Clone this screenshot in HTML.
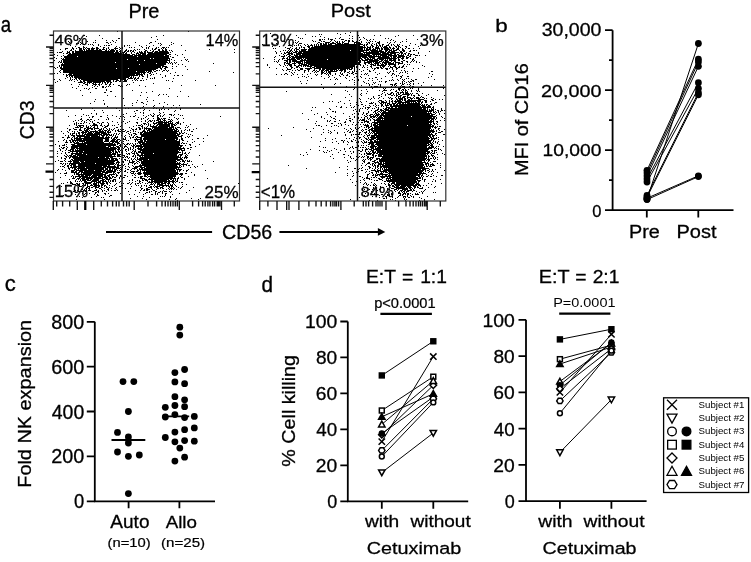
<!DOCTYPE html><html><head><meta charset="utf-8"><style>html,body{margin:0;padding:0;background:#fff;}svg{display:block;will-change:transform}</style></head><body>
<svg width="751" height="562" viewBox="0 0 751 562">
<rect width="751" height="562" fill="#fff"/>
<path transform="translate(0,0.5)" d="M117 31h1M188 31h1M350 32h1M270 33h1M337 33h1M345 33h1M305 34h1M319 34h1M321 34h1M340 34h1M84 35h1M99 35h1M163 35h1M296 35h1M349 35h1M358 35h1M374 35h1M380 35h1M398 35h1M413 35h1M86 36h1M156 36h1M312 36h1M315 36h1M320 36h1M352 36h1M395 36h1M151 37h1M298 37h1M324 37h1M340 37h1M359 37h1M363 37h1M79 38h1M102 38h1M118 38h2M277 38h1M300 38h1M302 38h1M328 38h1M335 38h1M339 38h1M349 38h1M352 38h1M364 38h1M385 38h1M388 38h1M157 39h1M288 39h1M319 39h2M322 39h1M324 39h1M328 39h1M330 39h3M341 39h3M360 39h1M366 39h1M370 39h1M373 39h1M391 39h1M406 39h1M417 39h1M95 40h1M106 40h1M112 40h1M116 40h1M295 40h1M312 40h1M319 40h2M331 40h1M334 40h1M345 40h2M348 40h2M352 40h1M359 40h1M367 40h1M369 40h1M390 40h1M393 40h1M68 41h1M87 41h1M113 41h1M155 41h1M284 41h1M298 41h1M313 41h1M315 41h1M321 41h1M323 41h2M330 41h1M335 41h1M337 41h1M339 41h1M342 41h1M344 41h1M348 41h2M352 41h2M356 41h2M361 41h1M370 41h1M372 41h1M375 41h1M379 41h1M395 41h1M402 41h1M406 41h1M69 42h1M80 42h1M93 42h1M95 42h1M106 42h2M110 42h1M115 42h1M135 42h1M150 42h2M171 42h1M209 42h1M293 42h1M295 42h1M297 42h1M318 42h2M325 42h5M332 42h2M336 42h2M339 42h1M342 42h2M348 42h1M354 42h6M361 42h1M366 42h1M368 42h2M377 42h3M387 42h1M390 42h1M394 42h1M400 42h1M76 43h1M78 43h1M81 43h1M85 43h1M108 43h1M149 43h1M158 43h1M160 43h1M173 43h1M276 43h1M296 43h1M299 43h3M317 43h1M320 43h2M323 43h1M325 43h2M328 43h1M330 43h6M337 43h4M342 43h1M344 43h5M354 43h1M356 43h1M358 43h3M367 43h1M369 43h1M372 43h1M376 43h1M378 43h2M389 43h1M410 43h1M80 44h1M84 44h1M88 44h1M90 44h1M92 44h1M98 44h1M111 44h1M161 44h1M171 44h1M262 44h1M292 44h1M298 44h1M304 44h1M307 44h1M311 44h1M314 44h1M316 44h1M318 44h1M320 44h2M323 44h4M328 44h4M335 44h22M358 44h5M364 44h1M366 44h2M371 44h1M374 44h1M376 44h1M379 44h1M382 44h2M388 44h1M391 44h1M393 44h1M397 44h1M399 44h1M415 44h1M70 45h1M93 45h1M98 45h1M104 45h1M106 45h1M108 45h2M124 45h1M127 45h1M129 45h1M139 45h1M146 45h1M153 45h1M160 45h1M169 45h1M181 45h1M288 45h3M294 45h1M296 45h1M298 45h1M300 45h1M305 45h1M308 45h1M310 45h3M314 45h1M316 45h1M318 45h1M320 45h40M363 45h2M366 45h1M371 45h2M376 45h2M379 45h2M382 45h1M386 45h3M391 45h1M394 45h1M397 45h2M402 45h1M409 45h1M420 45h1M75 46h1M83 46h1M100 46h1M116 46h1M124 46h1M141 46h1M149 46h1M272 46h1M279 46h1M292 46h1M301 46h1M307 46h3M312 46h1M314 46h49M364 46h1M367 46h1M370 46h1M372 46h2M376 46h1M378 46h1M380 46h1M382 46h1M384 46h3M389 46h1M395 46h2M398 46h2M405 46h2M418 46h1M72 47h1M78 47h2M83 47h2M86 47h1M92 47h1M96 47h2M103 47h2M108 47h1M115 47h1M119 47h1M122 47h1M129 47h1M131 47h1M134 47h1M142 47h1M146 47h1M148 47h1M156 47h1M158 47h1M162 47h3M166 47h1M168 47h1M285 47h1M290 47h1M296 47h1M299 47h1M301 47h1M303 47h2M308 47h2M311 47h55M367 47h4M372 47h1M375 47h4M381 47h1M383 47h5M389 47h2M393 47h1M396 47h1M398 47h1M400 47h1M406 47h1M65 48h3M72 48h2M76 48h1M79 48h3M83 48h1M85 48h1M87 48h3M91 48h4M96 48h3M103 48h1M106 48h1M108 48h1M114 48h4M120 48h1M122 48h1M146 48h1M148 48h1M152 48h1M155 48h2M161 48h1M163 48h1M165 48h1M273 48h1M275 48h1M287 48h3M292 48h1M295 48h2M299 48h1M304 48h1M309 48h54M364 48h1M366 48h2M369 48h2M373 48h1M375 48h5M381 48h2M384 48h5M390 48h1M392 48h3M397 48h2M402 48h1M405 48h1M408 48h2M413 48h1M419 48h1M60 49h1M65 49h1M71 49h1M73 49h1M79 49h3M83 49h2M86 49h1M88 49h2M91 49h3M96 49h2M99 49h2M102 49h3M106 49h1M109 49h1M111 49h3M115 49h1M119 49h1M126 49h1M134 49h1M137 49h1M139 49h1M144 49h1M152 49h1M154 49h2M158 49h2M162 49h1M165 49h2M209 49h1M234 49h1M289 49h1M291 49h1M294 49h1M296 49h3M301 49h6M308 49h55M364 49h1M366 49h5M372 49h4M377 49h1M379 49h1M381 49h2M384 49h6M391 49h1M393 49h1M396 49h3M402 49h2M70 50h2M75 50h1M79 50h4M84 50h1M86 50h16M105 50h2M108 50h1M110 50h5M116 50h2M120 50h1M125 50h2M128 50h1M130 50h2M133 50h1M135 50h1M145 50h2M150 50h1M153 50h1M158 50h2M162 50h2M165 50h2M169 50h1M171 50h1M185 50h1M283 50h1M285 50h1M288 50h1M290 50h2M294 50h1M296 50h1M299 50h1M301 50h5M308 50h42M351 50h18M370 50h8M379 50h3M385 50h3M389 50h3M393 50h4M399 50h1M402 50h3M410 50h1M413 50h2M416 50h1M62 51h1M67 51h1M69 51h1M72 51h2M75 51h40M116 51h2M119 51h2M124 51h2M127 51h2M130 51h1M132 51h2M139 51h1M141 51h1M144 51h2M147 51h1M152 51h2M155 51h3M159 51h9M172 51h1M275 51h1M280 51h1M287 51h1M289 51h2M292 51h1M295 51h3M299 51h65M366 51h1M369 51h1M371 51h13M385 51h2M388 51h2M391 51h4M400 51h2M403 51h2M409 51h2M429 51h1M57 52h1M59 52h3M67 52h3M72 52h2M75 52h39M115 52h4M120 52h1M122 52h3M126 52h1M131 52h1M134 52h1M137 52h1M139 52h4M144 52h2M147 52h6M154 52h15M170 52h1M234 52h1M276 52h1M284 52h1M286 52h4M291 52h1M293 52h4M298 52h4M303 52h58M363 52h16M380 52h6M387 52h12M400 52h3M406 52h1M418 52h1M63 53h1M66 53h2M69 53h2M72 53h50M123 53h1M125 53h2M131 53h1M136 53h3M140 53h6M148 53h21M276 53h1M281 53h1M284 53h2M288 53h5M296 53h67M364 53h1M366 53h15M382 53h7M390 53h6M399 53h1M401 53h2M404 53h2M408 53h2M418 53h1M54 54h1M68 54h62M132 54h3M136 54h1M138 54h3M142 54h4M147 54h20M169 54h2M175 54h1M182 54h1M283 54h1M287 54h3M291 54h2M294 54h1M296 54h5M302 54h68M372 54h20M394 54h2M397 54h2M401 54h1M403 54h1M405 54h1M408 54h1M410 54h2M413 54h2M57 55h1M63 55h1M67 55h66M134 55h30M165 55h4M177 55h1M279 55h1M284 55h1M286 55h1M289 55h2M294 55h4M299 55h73M373 55h2M376 55h1M378 55h1M380 55h7M388 55h9M398 55h6M407 55h2M410 55h1M415 55h3M419 55h1M425 55h1M61 56h1M64 56h13M78 56h59M138 56h31M170 56h1M275 56h1M281 56h4M288 56h2M291 56h3M295 56h72M368 56h13M382 56h7M390 56h2M393 56h4M398 56h7M406 56h1M409 56h2M54 57h1M64 57h105M172 57h2M184 57h1M274 57h1M283 57h1M287 57h1M289 57h2M292 57h69M362 57h6M369 57h6M378 57h12M391 57h1M393 57h3M397 57h4M402 57h2M406 57h3M415 57h1M56 58h1M61 58h1M63 58h1M65 58h85M151 58h2M154 58h16M263 58h1M282 58h3M286 58h2M289 58h1M291 58h4M296 58h6M303 58h1M305 58h57M364 58h2M367 58h2M370 58h1M372 58h3M377 58h20M398 58h1M401 58h3M406 58h2M410 58h1M413 58h1M62 59h65M128 59h40M169 59h1M171 59h1M185 59h1M187 59h1M274 59h1M279 59h1M282 59h1M287 59h9M297 59h3M301 59h2M304 59h2M307 59h20M328 59h32M361 59h2M365 59h8M374 59h4M379 59h5M385 59h1M387 59h1M389 59h3M393 59h3M398 59h2M402 59h1M412 59h2M54 60h1M61 60h1M63 60h74M138 60h6M145 60h25M174 60h1M181 60h1M186 60h1M278 60h1M284 60h4M289 60h2M292 60h5M300 60h61M362 60h6M369 60h10M381 60h2M384 60h4M389 60h7M398 60h2M403 60h2M412 60h1M414 60h1M59 61h1M61 61h1M63 61h104M169 61h1M188 61h1M274 61h1M276 61h1M278 61h1M286 61h2M289 61h2M292 61h11M304 61h1M306 61h52M359 61h2M364 61h1M367 61h11M379 61h3M383 61h1M385 61h4M391 61h1M394 61h2M401 61h2M406 61h2M411 61h1M413 61h1M416 61h1M58 62h1M60 62h2M63 62h52M116 62h52M169 62h1M171 62h1M174 62h1M176 62h1M277 62h1M284 62h2M287 62h1M289 62h2M294 62h1M296 62h5M302 62h1M304 62h57M364 62h8M373 62h1M375 62h5M382 62h9M393 62h1M395 62h5M402 62h1M407 62h1M410 62h1M416 62h1M419 62h1M62 63h1M64 63h92M157 63h9M168 63h1M170 63h1M172 63h1M175 63h1M213 63h1M284 63h1M286 63h4M292 63h4M298 63h5M304 63h1M306 63h54M364 63h2M368 63h2M371 63h1M374 63h5M380 63h1M382 63h1M384 63h3M388 63h6M395 63h1M398 63h5M61 64h78M140 64h26M172 64h1M178 64h1M182 64h1M267 64h1M279 64h1M284 64h1M288 64h4M294 64h1M299 64h1M301 64h6M308 64h53M365 64h1M370 64h4M375 64h1M377 64h2M381 64h3M385 64h2M388 64h8M398 64h1M404 64h1M407 64h1M409 64h1M59 65h1M61 65h103M267 65h1M280 65h1M285 65h1M287 65h1M289 65h3M294 65h2M298 65h4M303 65h6M310 65h45M360 65h1M363 65h1M367 65h1M371 65h1M373 65h3M377 65h9M389 65h1M394 65h2M403 65h1M422 65h1M59 66h1M61 66h1M63 66h98M162 66h5M172 66h1M176 66h1M185 66h1M283 66h1M290 66h2M296 66h3M301 66h1M303 66h1M305 66h1M307 66h5M314 66h41M356 66h2M363 66h1M370 66h2M380 66h1M382 66h3M388 66h1M390 66h1M393 66h3M399 66h1M402 66h2M406 66h1M424 66h1M54 67h1M57 67h1M60 67h2M63 67h98M162 67h1M165 67h3M269 67h1M286 67h1M291 67h2M296 67h2M299 67h1M310 67h1M312 67h3M316 67h37M354 67h1M356 67h1M362 67h1M364 67h1M367 67h1M371 67h1M376 67h3M380 67h2M383 67h1M390 67h3M395 67h2M398 67h2M401 67h2M55 68h1M60 68h56M117 68h11M129 68h29M160 68h2M164 68h2M172 68h1M276 68h1M287 68h1M291 68h1M294 68h1M300 68h3M305 68h7M314 68h7M322 68h28M351 68h2M354 68h1M372 68h1M374 68h2M377 68h2M381 68h2M385 68h3M389 68h1M392 68h1M396 68h2M404 68h1M413 68h1M418 68h1M61 69h95M161 69h1M165 69h1M187 69h1M282 69h1M287 69h4M297 69h1M300 69h3M307 69h3M314 69h1M319 69h2M322 69h3M326 69h11M338 69h1M340 69h6M347 69h1M349 69h3M354 69h1M359 69h1M367 69h1M374 69h1M386 69h2M392 69h1M396 69h1M60 70h1M63 70h89M153 70h1M156 70h2M159 70h1M163 70h2M166 70h1M168 70h1M283 70h1M286 70h1M292 70h1M295 70h1M298 70h2M304 70h2M308 70h1M313 70h2M316 70h1M319 70h1M321 70h3M325 70h4M330 70h3M334 70h1M336 70h2M339 70h4M344 70h2M354 70h1M357 70h1M363 70h1M369 70h1M373 70h1M393 70h1M401 70h1M404 70h1M59 71h1M63 71h73M137 71h8M146 71h1M148 71h4M154 71h2M162 71h1M167 71h1M209 71h1M289 71h1M304 71h1M308 71h1M312 71h1M315 71h1M317 71h2M321 71h2M324 71h1M326 71h1M328 71h9M341 71h1M344 71h2M349 71h1M352 71h1M354 71h1M356 71h1M361 71h1M369 71h2M390 71h1M393 71h1M396 71h1M405 71h1M407 71h1M412 71h1M431 71h2M60 72h1M63 72h83M147 72h2M150 72h1M152 72h1M175 72h1M233 72h1M291 72h1M294 72h1M304 72h1M314 72h1M316 72h1M321 72h3M326 72h1M328 72h3M340 72h1M344 72h1M347 72h2M352 72h2M375 72h1M387 72h1M389 72h1M400 72h1M402 72h1M405 72h1M54 73h1M57 73h1M69 73h71M141 73h1M143 73h2M149 73h2M156 73h1M170 73h1M285 73h2M292 73h1M310 73h1M321 73h2M324 73h2M327 73h1M329 73h2M335 73h1M340 73h1M342 73h1M349 73h1M351 73h2M355 73h2M365 73h1M367 73h1M379 73h1M388 73h1M392 73h2M399 73h1M407 73h1M429 73h1M63 74h1M66 74h1M68 74h4M73 74h62M136 74h7M144 74h1M147 74h1M151 74h1M153 74h1M160 74h1M276 74h1M281 74h1M284 74h1M287 74h1M293 74h1M297 74h1M302 74h1M307 74h1M315 74h1M317 74h1M321 74h1M326 74h1M328 74h1M330 74h1M335 74h1M341 74h2M347 74h1M353 74h1M361 74h1M364 74h1M366 74h1M377 74h1M392 74h1M394 74h1M432 74h1M66 75h2M69 75h69M139 75h1M141 75h2M147 75h1M150 75h1M165 75h1M174 75h1M177 75h2M182 75h1M291 75h1M316 75h1M328 75h1M332 75h1M339 75h1M343 75h1M346 75h2M368 75h1M391 75h1M396 75h1M398 75h1M402 75h1M66 76h1M69 76h1M71 76h2M74 76h56M131 76h1M133 76h1M139 76h1M142 76h2M147 76h1M165 76h1M302 76h1M304 76h1M308 76h1M321 76h1M329 76h1M340 76h1M349 76h1M356 76h1M360 76h1M385 76h1M396 76h1M400 76h2M407 76h2M431 76h1M67 77h1M70 77h1M72 77h1M74 77h55M130 77h2M133 77h1M135 77h1M138 77h1M147 77h1M154 77h1M162 77h1M298 77h1M306 77h1M328 77h1M334 77h1M345 77h1M354 77h1M361 77h1M375 77h2M392 77h1M401 77h1M428 77h1M65 78h1M70 78h1M75 78h2M78 78h48M128 78h5M134 78h2M137 78h2M142 78h1M150 78h1M152 78h1M154 78h1M173 78h1M311 78h1M324 78h1M336 78h1M346 78h1M365 78h1M369 78h1M372 78h1M381 78h1M400 78h1M406 78h1M408 78h1M54 79h1M59 79h1M70 79h1M72 79h1M74 79h1M76 79h1M79 79h1M81 79h37M120 79h6M127 79h1M134 79h1M136 79h1M146 79h1M330 79h1M335 79h1M337 79h1M352 79h1M358 79h1M377 79h1M392 79h1M397 79h1M402 79h1M404 79h1M411 79h1M415 79h2M434 79h1M60 80h1M69 80h1M71 80h1M77 80h1M80 80h1M83 80h28M113 80h1M116 80h3M120 80h1M124 80h3M132 80h1M135 80h1M137 80h1M140 80h2M143 80h1M166 80h1M168 80h1M195 80h1M307 80h1M349 80h1M354 80h1M358 80h1M368 80h1M372 80h1M389 80h1M391 80h1M393 80h1M398 80h1M403 80h1M412 80h2M57 81h1M74 81h1M80 81h2M83 81h2M87 81h18M106 81h5M113 81h1M115 81h2M119 81h2M123 81h4M172 81h1M300 81h1M363 81h1M379 81h1M381 81h1M385 81h2M402 81h1M404 81h1M408 81h1M410 81h2M413 81h1M55 82h1M78 82h5M84 82h2M87 82h5M93 82h8M102 82h1M104 82h2M107 82h2M110 82h2M133 82h1M354 82h1M364 82h1M373 82h1M375 82h1M385 82h1M402 82h1M406 82h1M409 82h1M423 82h1M83 83h2M87 83h1M89 83h1M92 83h2M95 83h1M99 83h1M102 83h1M105 83h1M107 83h1M110 83h1M153 83h1M301 83h1M306 83h1M335 83h1M340 83h1M366 83h1M368 83h1M374 83h1M395 83h2M400 83h1M402 83h1M404 83h1M410 83h1M413 83h1M418 83h1M71 84h1M79 84h1M85 84h3M93 84h4M98 84h2M101 84h1M105 84h2M109 84h2M113 84h1M127 84h1M129 84h1M321 84h1M334 84h1M354 84h1M369 84h1M372 84h1M378 84h1M380 84h1M390 84h3M394 84h2M402 84h2M407 84h1M409 84h1M413 84h1M82 85h1M87 85h1M92 85h1M95 85h1M99 85h1M109 85h1M118 85h2M121 85h1M126 85h1M139 85h1M181 85h1M215 85h1M361 85h1M369 85h1M380 85h1M392 85h1M394 85h1M396 85h1M401 85h1M410 85h1M421 85h1M431 85h1M443 85h1M78 86h1M94 86h1M97 86h1M102 86h2M106 86h1M108 86h1M110 86h1M120 86h1M122 86h1M145 86h1M346 86h1M371 86h1M374 86h4M380 86h1M391 86h1M395 86h1M400 86h1M402 86h3M409 86h1M412 86h2M72 87h1M92 87h1M102 87h2M105 87h1M302 87h1M318 87h1M345 87h1M370 87h2M379 87h2M384 87h1M388 87h1M391 87h1M395 87h1M398 87h4M413 87h1M434 87h1M439 87h1M76 88h1M84 88h1M86 88h1M89 88h1M95 88h2M169 88h1M323 88h1M354 88h1M372 88h1M383 88h1M385 88h1M398 88h3M404 88h1M410 88h1M412 88h1M418 88h1M443 88h1M88 89h1M106 89h1M353 89h1M366 89h1M384 89h1M391 89h1M393 89h1M398 89h2M402 89h2M405 89h1M408 89h1M418 89h1M80 90h1M106 90h1M132 90h1M345 90h1M361 90h1M379 90h1M383 90h4M390 90h1M396 90h1M399 90h1M401 90h1M403 90h1M405 90h2M411 90h1M416 90h1M418 90h1M437 90h1M110 91h2M152 91h1M180 91h1M286 91h1M347 91h1M367 91h1M382 91h1M395 91h2M402 91h1M405 91h1M407 91h1M411 91h1M417 91h1M419 91h1M90 92h1M104 92h2M141 92h1M146 92h1M384 92h1M391 92h2M397 92h2M400 92h4M405 92h3M361 93h1M366 93h1M382 93h1M387 93h1M390 93h2M393 93h1M396 93h1M398 93h1M400 93h1M403 93h1M405 93h4M410 93h1M412 93h1M416 93h2M422 93h1M159 94h1M163 94h1M166 94h1M331 94h1M349 94h1M360 94h1M381 94h1M385 94h1M388 94h3M393 94h1M396 94h1M398 94h2M402 94h8M411 94h1M418 94h1M428 94h1M82 95h1M107 95h1M140 95h1M158 95h1M361 95h1M378 95h2M385 95h1M391 95h2M394 95h1M396 95h2M400 95h2M407 95h2M411 95h1M413 95h2M418 95h2M426 95h1M444 95h1M115 96h1M168 96h1M177 96h1M188 96h1M351 96h1M373 96h1M381 96h1M396 96h1M398 96h3M403 96h3M407 96h1M414 96h1M421 96h1M147 97h1M345 97h1M373 97h1M379 97h1M388 97h1M390 97h1M395 97h1M398 97h1M400 97h1M402 97h3M407 97h4M413 97h1M416 97h3M420 97h1M422 97h2M431 97h1M123 98h1M359 98h1M368 98h1M371 98h1M374 98h1M378 98h1M383 98h1M389 98h1M391 98h2M396 98h1M398 98h5M404 98h2M407 98h1M410 98h3M414 98h1M416 98h4M424 98h1M426 98h1M433 98h1M95 99h1M146 99h1M360 99h1M370 99h1M391 99h1M396 99h2M399 99h4M404 99h2M408 99h2M411 99h1M418 99h6M431 99h2M435 99h1M439 99h1M442 99h1M103 100h1M137 100h1M153 100h1M349 100h1M379 100h3M385 100h1M389 100h1M392 100h1M395 100h1M397 100h4M402 100h1M404 100h2M407 100h14M424 100h3M432 100h2M94 101h1M147 101h1M329 101h1M332 101h1M340 101h1M360 101h1M366 101h1M378 101h1M381 101h3M386 101h1M389 101h1M391 101h2M394 101h8M405 101h11M417 101h4M422 101h1M425 101h2M430 101h1M136 102h1M141 102h2M164 102h1M323 102h1M338 102h1M356 102h1M361 102h1M371 102h1M373 102h1M379 102h1M381 102h6M389 102h1M392 102h1M395 102h2M398 102h12M411 102h1M413 102h1M415 102h2M418 102h2M421 102h2M425 102h2M435 102h2M90 103h1M104 103h1M132 103h1M143 103h1M159 103h1M344 103h1M350 103h1M369 103h4M375 103h1M380 103h2M383 103h1M385 103h1M387 103h3M392 103h4M397 103h4M402 103h2M405 103h1M407 103h13M421 103h1M431 103h1M434 103h1M104 104h1M146 104h1M167 104h1M200 104h1M356 104h2M361 104h2M375 104h1M381 104h2M385 104h1M387 104h1M389 104h3M393 104h2M396 104h2M399 104h22M422 104h1M424 104h1M426 104h2M430 104h2M124 105h1M132 105h1M154 105h1M173 105h1M179 105h1M350 105h1M358 105h1M365 105h1M369 105h1M373 105h1M376 105h1M378 105h1M381 105h2M385 105h4M390 105h2M393 105h27M421 105h4M426 105h1M428 105h2M107 106h1M143 106h1M153 106h1M163 106h1M336 106h1M341 106h1M354 106h1M363 106h1M370 106h1M375 106h1M381 106h1M383 106h1M386 106h1M390 106h31M422 106h4M427 106h4M433 106h1M142 107h1M154 107h1M163 107h1M171 107h1M176 107h1M312 107h1M315 107h1M340 107h2M346 107h1M351 107h1M353 107h1M357 107h1M365 107h1M367 107h3M376 107h1M378 107h1M386 107h4M391 107h2M395 107h2M398 107h33M432 107h2M92 108h1M116 108h1M125 108h1M128 108h1M140 108h1M153 108h1M156 108h1M162 108h1M180 108h1M329 108h1M360 108h1M362 108h1M365 108h1M368 108h1M372 108h1M374 108h1M378 108h1M383 108h1M385 108h2M388 108h34M423 108h3M427 108h1M431 108h1M433 108h1M441 108h1M81 109h1M144 109h1M159 109h1M161 109h1M164 109h1M168 109h1M180 109h1M330 109h1M355 109h1M359 109h1M367 109h1M377 109h2M380 109h2M384 109h5M390 109h36M427 109h1M429 109h1M431 109h3M435 109h1M441 109h1M66 110h1M94 110h1M102 110h1M119 110h1M136 110h2M143 110h1M149 110h1M159 110h1M175 110h1M311 110h1M353 110h1M359 110h1M371 110h1M375 110h3M380 110h4M385 110h43M429 110h5M437 110h2M441 110h2M444 110h1M134 111h1M174 111h1M332 111h2M335 111h1M356 111h1M359 111h1M368 111h1M374 111h2M378 111h2M381 111h1M383 111h3M388 111h44M433 111h1M435 111h1M438 111h1M440 111h1M103 112h1M140 112h1M143 112h1M159 112h1M163 112h1M326 112h1M335 112h1M363 112h1M368 112h1M373 112h1M375 112h1M377 112h1M380 112h1M382 112h45M428 112h1M430 112h1M433 112h2M436 112h1M438 112h1M91 113h1M96 113h1M126 113h1M135 113h1M143 113h1M153 113h1M160 113h1M302 113h1M317 113h1M343 113h1M354 113h1M358 113h1M363 113h1M366 113h2M375 113h2M378 113h1M381 113h51M435 113h1M439 113h1M444 113h1M83 114h1M96 114h1M123 114h1M150 114h1M154 114h1M159 114h1M164 114h1M169 114h3M174 114h1M178 114h1M314 114h1M327 114h1M352 114h1M358 114h1M362 114h1M366 114h1M370 114h3M374 114h1M376 114h4M381 114h3M385 114h45M431 114h4M439 114h1M75 115h1M86 115h1M88 115h1M107 115h1M112 115h1M135 115h1M143 115h1M148 115h1M151 115h1M153 115h1M157 115h2M160 115h1M163 115h1M171 115h1M173 115h1M180 115h1M182 115h1M364 115h1M367 115h1M369 115h2M373 115h1M375 115h4M380 115h53M436 115h1M68 116h1M81 116h1M92 116h2M100 116h2M116 116h1M120 116h1M123 116h1M130 116h1M133 116h2M146 116h1M152 116h2M157 116h1M160 116h1M162 116h1M220 116h1M321 116h1M330 116h1M335 116h1M349 116h1M354 116h1M365 116h2M370 116h6M377 116h1M379 116h3M383 116h28M412 116h24M441 116h1M89 117h1M92 117h1M107 117h1M124 117h1M138 117h1M145 117h1M157 117h2M169 117h1M174 117h1M321 117h1M331 117h1M354 117h1M358 117h1M361 117h1M364 117h1M367 117h1M370 117h2M373 117h2M376 117h1M378 117h5M384 117h48M433 117h2M436 117h1M442 117h1M81 118h1M108 118h1M119 118h1M141 118h1M143 118h1M148 118h1M153 118h1M157 118h3M161 118h1M163 118h3M176 118h1M178 118h1M183 118h1M324 118h1M333 118h2M349 118h2M358 118h1M364 118h1M367 118h1M369 118h1M372 118h1M377 118h58M436 118h1M444 118h1M80 119h2M87 119h2M90 119h2M98 119h1M106 119h1M108 119h1M124 119h1M137 119h1M141 119h1M147 119h1M157 119h4M162 119h1M164 119h1M168 119h2M171 119h1M177 119h1M308 119h1M335 119h1M346 119h1M352 119h1M360 119h1M362 119h3M368 119h1M370 119h1M373 119h2M376 119h5M382 119h1M384 119h46M431 119h3M435 119h1M75 120h1M78 120h1M82 120h1M86 120h1M89 120h1M94 120h1M145 120h1M149 120h2M152 120h1M154 120h1M156 120h3M160 120h1M163 120h3M170 120h1M172 120h1M327 120h1M330 120h1M339 120h1M349 120h2M359 120h1M361 120h4M366 120h1M370 120h1M374 120h55M430 120h2M433 120h1M440 120h1M444 120h1M73 121h1M81 121h1M84 121h1M90 121h1M92 121h1M112 121h1M123 121h1M129 121h1M141 121h1M145 121h1M148 121h1M150 121h2M154 121h1M158 121h5M164 121h1M166 121h1M168 121h4M178 121h1M316 121h1M327 121h1M329 121h1M334 121h2M345 121h1M350 121h1M357 121h1M364 121h5M374 121h1M377 121h57M436 121h2M76 122h1M84 122h1M86 122h1M92 122h1M97 122h2M102 122h2M107 122h1M117 122h1M121 122h1M127 122h1M136 122h2M147 122h1M153 122h1M156 122h13M170 122h1M172 122h1M176 122h3M183 122h1M344 122h2M353 122h1M358 122h1M361 122h2M364 122h1M367 122h2M372 122h60M433 122h1M437 122h1M74 123h1M76 123h1M78 123h1M80 123h2M83 123h1M89 123h1M93 123h2M99 123h1M101 123h1M108 123h1M125 123h1M137 123h1M143 123h3M148 123h1M153 123h4M158 123h5M164 123h3M168 123h5M175 123h1M177 123h2M180 123h1M315 123h1M331 123h2M338 123h1M340 123h1M369 123h1M371 123h1M374 123h4M379 123h50M430 123h1M433 123h2M436 123h1M74 124h1M76 124h1M93 124h4M101 124h1M108 124h1M118 124h1M141 124h1M144 124h1M146 124h1M148 124h1M150 124h1M154 124h1M157 124h13M171 124h4M176 124h1M180 124h1M190 124h1M341 124h1M345 124h1M352 124h1M356 124h1M360 124h1M363 124h1M365 124h1M367 124h1M371 124h1M373 124h3M377 124h55M434 124h1M437 124h1M69 125h1M76 125h1M78 125h6M86 125h1M90 125h1M92 125h6M100 125h2M104 125h1M107 125h2M112 125h1M114 125h1M121 125h1M136 125h1M138 125h3M142 125h1M148 125h1M150 125h1M153 125h1M156 125h2M159 125h11M171 125h2M174 125h2M186 125h1M316 125h1M318 125h2M326 125h1M334 125h1M336 125h1M341 125h1M348 125h1M355 125h1M364 125h5M371 125h1M373 125h5M379 125h28M408 125h23M432 125h2M77 126h1M79 126h2M83 126h1M86 126h1M88 126h1M91 126h1M94 126h1M97 126h1M102 126h1M105 126h3M120 126h1M133 126h1M141 126h2M147 126h1M150 126h7M158 126h12M171 126h3M188 126h1M321 126h1M331 126h1M338 126h1M361 126h1M366 126h3M370 126h2M374 126h60M435 126h1M437 126h1M439 126h2M75 127h4M80 127h3M86 127h3M90 127h1M93 127h2M97 127h1M104 127h2M116 127h2M129 127h1M138 127h2M142 127h1M144 127h1M146 127h1M152 127h16M169 127h5M175 127h1M177 127h3M185 127h1M187 127h1M293 127h1M355 127h1M359 127h1M364 127h1M366 127h1M368 127h2M372 127h1M374 127h57M432 127h1M434 127h3M67 128h1M73 128h1M80 128h1M84 128h2M87 128h6M94 128h5M101 128h1M103 128h1M106 128h1M109 128h1M114 128h1M131 128h1M136 128h1M139 128h2M142 128h1M144 128h7M152 128h1M154 128h18M173 128h1M175 128h2M180 128h1M196 128h1M268 128h1M313 128h1M344 128h1M350 128h1M355 128h1M358 128h1M368 128h1M371 128h60M435 128h1M438 128h2M69 129h2M74 129h3M79 129h2M84 129h1M86 129h3M91 129h2M94 129h1M99 129h3M103 129h1M107 129h1M109 129h1M111 129h1M113 129h1M118 129h1M120 129h1M122 129h2M132 129h2M135 129h2M139 129h2M144 129h1M146 129h1M148 129h4M153 129h22M176 129h2M185 129h1M189 129h1M193 129h1M306 129h1M323 129h1M346 129h1M351 129h1M356 129h1M362 129h1M365 129h2M369 129h4M374 129h56M431 129h1M433 129h1M438 129h1M444 129h1M69 130h1M79 130h3M84 130h4M89 130h1M95 130h1M98 130h3M102 130h1M104 130h3M108 130h2M112 130h1M115 130h1M117 130h2M121 130h1M125 130h1M130 130h1M133 130h1M143 130h2M147 130h3M151 130h22M174 130h3M178 130h1M181 130h1M184 130h1M187 130h1M189 130h1M328 130h1M334 130h1M348 130h1M353 130h1M361 130h1M363 130h1M368 130h2M371 130h63M436 130h1M439 130h1M61 131h1M67 131h1M72 131h1M74 131h1M77 131h1M82 131h2M85 131h4M90 131h8M99 131h5M105 131h1M107 131h2M110 131h1M115 131h1M118 131h3M122 131h3M127 131h2M133 131h1M135 131h1M142 131h4M147 131h1M149 131h30M181 131h1M191 131h2M310 131h1M330 131h1M347 131h1M350 131h1M352 131h1M356 131h1M362 131h1M366 131h1M369 131h1M372 131h63M436 131h1M441 131h2M68 132h1M74 132h1M78 132h2M81 132h6M88 132h4M93 132h1M95 132h11M107 132h4M121 132h1M126 132h1M130 132h1M138 132h1M140 132h3M144 132h33M179 132h1M181 132h1M184 132h1M323 132h1M328 132h1M331 132h1M337 132h1M344 132h1M349 132h2M357 132h1M359 132h2M364 132h3M369 132h1M371 132h1M373 132h2M376 132h55M432 132h2M438 132h3M63 133h1M70 133h1M72 133h3M76 133h1M78 133h2M82 133h2M85 133h1M87 133h6M94 133h6M101 133h6M108 133h1M114 133h1M116 133h1M119 133h1M122 133h1M128 133h1M133 133h3M140 133h2M143 133h35M179 133h2M182 133h2M186 133h1M330 133h1M337 133h1M359 133h1M365 133h1M368 133h1M370 133h1M372 133h1M374 133h56M431 133h1M435 133h2M70 134h1M72 134h1M76 134h1M79 134h1M82 134h1M84 134h18M103 134h7M111 134h1M113 134h1M116 134h1M118 134h1M129 134h1M131 134h1M135 134h2M140 134h36M177 134h3M188 134h1M190 134h1M321 134h1M345 134h1M351 134h1M353 134h1M355 134h2M358 134h2M361 134h1M366 134h1M369 134h1M374 134h3M378 134h55M435 134h1M443 134h2M65 135h1M68 135h1M71 135h4M76 135h9M86 135h12M99 135h1M101 135h4M106 135h2M109 135h3M113 135h1M115 135h1M121 135h1M125 135h1M131 135h1M134 135h1M141 135h38M181 135h2M192 135h1M207 135h1M281 135h1M345 135h1M351 135h1M357 135h1M364 135h1M367 135h3M371 135h60M432 135h3M436 135h1M68 136h1M73 136h2M77 136h13M91 136h9M102 136h2M106 136h1M108 136h1M112 136h1M115 136h1M117 136h1M124 136h1M129 136h1M133 136h1M136 136h2M141 136h36M178 136h4M187 136h1M189 136h1M357 136h2M363 136h1M367 136h1M371 136h4M376 136h52M429 136h2M432 136h2M62 137h2M67 137h3M72 137h1M74 137h1M76 137h2M79 137h2M84 137h20M105 137h5M111 137h1M114 137h4M125 137h1M130 137h1M132 137h2M135 137h1M137 137h5M144 137h34M181 137h1M185 137h1M188 137h1M311 137h1M354 137h1M359 137h2M364 137h1M368 137h1M370 137h59M430 137h2M433 137h1M436 137h1M438 137h1M67 138h1M71 138h1M74 138h35M111 138h1M113 138h2M116 138h1M123 138h1M125 138h1M130 138h1M136 138h1M140 138h2M143 138h35M181 138h2M197 138h2M203 138h1M325 138h1M335 138h1M346 138h1M349 138h1M356 138h1M359 138h1M365 138h2M368 138h1M371 138h5M377 138h53M431 138h6M64 139h1M71 139h2M74 139h1M76 139h6M83 139h20M105 139h4M112 139h4M117 139h3M123 139h3M134 139h8M143 139h22M166 139h9M176 139h2M179 139h1M181 139h2M192 139h1M332 139h1M353 139h1M361 139h1M366 139h2M369 139h5M376 139h53M431 139h2M434 139h1M438 139h1M63 140h1M66 140h1M69 140h2M72 140h31M105 140h4M111 140h4M116 140h2M120 140h1M126 140h1M128 140h1M135 140h1M137 140h1M140 140h3M144 140h2M147 140h30M179 140h1M182 140h2M325 140h1M341 140h2M344 140h1M351 140h1M355 140h1M363 140h1M368 140h1M370 140h2M374 140h2M377 140h1M379 140h53M433 140h1M442 140h1M58 141h1M66 141h1M70 141h1M72 141h2M75 141h1M77 141h1M79 141h6M86 141h17M104 141h5M110 141h8M119 141h1M123 141h1M135 141h1M138 141h5M144 141h36M187 141h1M194 141h1M203 141h1M320 141h1M336 141h1M343 141h1M347 141h1M351 141h2M358 141h1M361 141h1M364 141h1M366 141h1M370 141h3M374 141h57M433 141h1M435 141h1M438 141h1M65 142h3M70 142h2M73 142h2M76 142h3M82 142h1M84 142h20M109 142h1M112 142h2M115 142h4M121 142h1M138 142h7M146 142h34M182 142h1M192 142h1M332 142h1M343 142h1M348 142h1M356 142h1M358 142h1M362 142h1M364 142h3M368 142h63M432 142h1M435 142h1M437 142h1M74 143h39M114 143h1M117 143h3M123 143h1M127 143h2M130 143h1M132 143h1M135 143h1M137 143h1M139 143h2M142 143h38M181 143h1M183 143h2M186 143h1M338 143h1M363 143h1M369 143h5M376 143h53M430 143h2M433 143h1M437 143h1M55 144h1M64 144h1M66 144h1M71 144h4M77 144h9M87 144h29M117 144h1M120 144h1M124 144h1M126 144h2M129 144h1M133 144h1M135 144h1M140 144h40M189 144h2M199 144h1M347 144h1M357 144h1M368 144h2M371 144h3M375 144h52M428 144h2M431 144h2M439 144h1M59 145h1M62 145h3M72 145h44M119 145h2M125 145h1M131 145h1M133 145h2M136 145h6M143 145h40M185 145h1M190 145h1M358 145h1M361 145h1M363 145h1M366 145h1M371 145h4M377 145h52M430 145h3M59 146h1M66 146h1M71 146h35M108 146h3M113 146h1M116 146h3M120 146h1M124 146h3M132 146h2M135 146h44M180 146h2M195 146h1M319 146h1M352 146h1M358 146h1M368 146h1M370 146h7M378 146h49M429 146h1M431 146h3M436 146h1M438 146h1M443 146h1M61 147h1M63 147h2M67 147h1M71 147h7M79 147h30M110 147h6M117 147h3M122 147h1M124 147h1M127 147h1M130 147h1M133 147h1M135 147h1M138 147h1M140 147h3M144 147h37M183 147h1M190 147h2M323 147h1M325 147h1M350 147h1M352 147h1M355 147h3M360 147h1M362 147h2M365 147h1M370 147h4M375 147h1M377 147h50M428 147h6M435 147h1M59 148h1M62 148h2M66 148h1M71 148h4M76 148h41M118 148h2M123 148h1M128 148h1M130 148h1M133 148h1M137 148h5M143 148h42M187 148h2M334 148h1M344 148h1M349 148h1M353 148h1M366 148h1M368 148h1M371 148h3M375 148h57M434 148h1M436 148h1M438 148h1M60 149h1M66 149h1M70 149h4M75 149h1M77 149h1M79 149h37M117 149h3M121 149h1M125 149h2M128 149h1M130 149h1M132 149h1M135 149h1M138 149h44M184 149h1M190 149h1M310 149h1M336 149h1M344 149h1M357 149h1M362 149h1M365 149h3M369 149h3M373 149h8M382 149h47M438 149h1M440 149h1M60 150h1M65 150h1M68 150h3M72 150h2M75 150h39M115 150h1M118 150h1M120 150h1M122 150h1M125 150h1M128 150h1M133 150h1M135 150h1M140 150h38M179 150h1M181 150h4M319 150h1M327 150h1M331 150h1M340 150h1M358 150h2M362 150h1M365 150h1M371 150h3M376 150h52M431 150h2M434 150h3M441 150h1M57 151h1M62 151h1M70 151h13M84 151h27M112 151h2M115 151h2M118 151h2M122 151h1M126 151h1M132 151h1M134 151h2M138 151h3M142 151h37M182 151h1M323 151h1M329 151h1M345 151h1M350 151h1M353 151h1M357 151h1M360 151h2M365 151h1M368 151h1M370 151h1M372 151h2M375 151h1M377 151h53M432 151h1M434 151h1M65 152h1M68 152h2M72 152h1M76 152h2M79 152h33M113 152h1M115 152h3M119 152h1M121 152h2M131 152h1M134 152h1M136 152h1M138 152h43M182 152h1M185 152h1M189 152h1M306 152h1M324 152h1M326 152h1M338 152h1M353 152h1M366 152h1M369 152h1M372 152h4M377 152h49M427 152h3M431 152h1M434 152h1M436 152h1M57 153h1M61 153h1M65 153h1M71 153h11M83 153h28M112 153h4M117 153h1M122 153h1M126 153h1M128 153h2M132 153h3M136 153h2M141 153h12M154 153h24M182 153h1M184 153h2M188 153h1M351 153h1M359 153h1M364 153h1M366 153h6M373 153h2M376 153h2M379 153h50M430 153h1M432 153h3M442 153h1M66 154h1M71 154h2M75 154h11M87 154h29M117 154h4M122 154h1M127 154h1M129 154h1M134 154h1M137 154h2M141 154h2M144 154h33M179 154h4M186 154h1M300 154h1M307 154h1M332 154h1M343 154h2M361 154h1M364 154h1M367 154h4M372 154h2M378 154h48M427 154h1M431 154h1M437 154h1M444 154h1M64 155h1M67 155h1M69 155h3M73 155h3M77 155h35M114 155h1M117 155h3M122 155h3M133 155h1M135 155h1M137 155h40M178 155h1M180 155h2M185 155h1M187 155h1M199 155h1M303 155h1M348 155h1M366 155h1M372 155h2M375 155h2M378 155h4M383 155h44M428 155h1M431 155h3M57 156h1M65 156h2M68 156h1M70 156h8M79 156h37M117 156h4M124 156h1M126 156h2M132 156h2M135 156h1M139 156h2M142 156h1M144 156h35M180 156h1M185 156h2M330 156h1M350 156h1M356 156h1M359 156h1M362 156h1M364 156h1M367 156h2M373 156h1M375 156h1M378 156h49M428 156h2M432 156h1M434 156h1M61 157h1M66 157h1M69 157h2M72 157h26M99 157h6M106 157h3M110 157h3M122 157h2M125 157h1M127 157h1M129 157h1M135 157h1M137 157h1M140 157h41M182 157h1M184 157h4M344 157h1M350 157h1M357 157h2M361 157h1M363 157h1M367 157h2M370 157h4M382 157h43M426 157h1M428 157h1M433 157h1M435 157h1M437 157h1M61 158h1M64 158h2M69 158h1M73 158h37M111 158h6M119 158h1M128 158h1M131 158h1M134 158h1M137 158h1M139 158h39M180 158h2M184 158h1M186 158h1M333 158h1M351 158h1M353 158h1M367 158h1M369 158h2M372 158h1M376 158h4M381 158h46M428 158h1M430 158h2M433 158h1M435 158h1M65 159h1M71 159h2M74 159h34M109 159h1M111 159h3M115 159h3M121 159h1M124 159h2M131 159h1M133 159h1M135 159h1M137 159h11M149 159h34M356 159h1M363 159h1M365 159h1M368 159h1M370 159h2M376 159h2M379 159h47M427 159h3M434 159h1M437 159h1M58 160h1M64 160h1M70 160h1M72 160h46M125 160h1M127 160h1M129 160h1M132 160h1M136 160h1M139 160h3M143 160h33M177 160h3M182 160h2M185 160h1M187 160h1M189 160h1M347 160h1M355 160h1M362 160h1M364 160h1M370 160h1M374 160h2M379 160h46M426 160h1M428 160h2M55 161h1M60 161h3M65 161h1M68 161h4M73 161h6M80 161h4M85 161h30M117 161h2M122 161h2M129 161h1M132 161h3M137 161h2M141 161h36M180 161h1M182 161h3M187 161h3M191 161h1M213 161h1M350 161h1M363 161h2M372 161h3M377 161h1M379 161h43M424 161h1M428 161h1M433 161h3M70 162h1M73 162h7M81 162h33M116 162h4M123 162h1M129 162h5M136 162h1M139 162h1M141 162h35M177 162h1M179 162h1M184 162h1M348 162h1M364 162h1M368 162h2M374 162h5M380 162h2M383 162h1M385 162h41M427 162h1M430 162h1M60 163h2M63 163h1M65 163h1M67 163h1M69 163h26M96 163h19M116 163h1M118 163h1M128 163h1M132 163h1M134 163h2M137 163h1M141 163h40M183 163h1M187 163h1M362 163h1M367 163h3M372 163h2M375 163h1M378 163h4M383 163h40M425 163h4M432 163h1M437 163h1M440 163h1M62 164h1M65 164h1M69 164h1M71 164h5M78 164h36M115 164h1M117 164h2M121 164h2M124 164h1M128 164h1M134 164h1M140 164h1M142 164h38M181 164h6M192 164h1M202 164h1M357 164h1M366 164h1M370 164h1M372 164h1M374 164h1M378 164h6M385 164h39M425 164h2M428 164h1M430 164h4M64 165h1M67 165h2M70 165h2M73 165h3M78 165h29M108 165h2M114 165h1M117 165h4M123 165h1M132 165h1M139 165h38M179 165h2M183 165h1M186 165h1M188 165h2M288 165h1M361 165h1M365 165h1M372 165h1M374 165h2M377 165h2M380 165h1M382 165h42M426 165h1M428 165h1M430 165h1M432 165h3M440 165h1M60 166h1M62 166h2M67 166h2M71 166h1M73 166h29M103 166h13M117 166h2M122 166h1M125 166h1M128 166h1M133 166h1M135 166h7M144 166h34M179 166h1M181 166h1M183 166h1M194 166h1M197 166h1M347 166h1M368 166h2M373 166h1M375 166h1M377 166h2M380 166h43M424 166h1M426 166h2M429 166h3M64 167h1M68 167h1M70 167h7M78 167h7M86 167h20M107 167h12M120 167h1M122 167h1M129 167h1M134 167h4M140 167h5M146 167h35M190 167h1M195 167h1M339 167h1M357 167h1M362 167h1M369 167h2M375 167h1M377 167h1M380 167h2M383 167h42M440 167h1M68 168h2M72 168h1M74 168h2M77 168h27M105 168h3M109 168h2M112 168h3M116 168h4M121 168h1M125 168h1M132 168h5M139 168h1M141 168h2M144 168h33M178 168h1M306 168h1M354 168h2M359 168h1M361 168h1M369 168h1M372 168h1M375 168h1M378 168h1M380 168h1M382 168h1M384 168h1M386 168h1M388 168h41M58 169h1M62 169h1M69 169h1M74 169h3M78 169h1M80 169h7M88 169h16M105 169h3M109 169h2M112 169h1M114 169h3M120 169h2M127 169h2M131 169h1M134 169h1M137 169h1M139 169h36M176 169h6M188 169h1M347 169h1M358 169h1M365 169h1M367 169h1M374 169h1M377 169h1M380 169h1M382 169h1M384 169h37M422 169h4M429 169h1M432 169h1M435 169h1M57 170h1M65 170h1M71 170h4M76 170h18M95 170h7M103 170h3M107 170h6M114 170h2M117 170h1M119 170h1M121 170h1M125 170h1M130 170h1M137 170h2M140 170h1M142 170h34M177 170h1M179 170h2M183 170h1M186 170h2M205 170h1M361 170h2M371 170h5M377 170h4M383 170h41M425 170h1M427 170h2M432 170h1M444 170h1M71 171h3M75 171h2M79 171h4M84 171h21M106 171h10M120 171h1M124 171h2M131 171h4M136 171h2M140 171h1M144 171h1M146 171h30M177 171h1M179 171h1M186 171h1M352 171h1M357 171h2M366 171h1M369 171h1M375 171h4M380 171h7M388 171h35M425 171h1M429 171h1M431 171h1M433 171h1M55 172h1M66 172h1M71 172h6M78 172h2M81 172h20M102 172h10M113 172h2M117 172h3M127 172h1M130 172h1M133 172h1M138 172h3M143 172h35M191 172h1M335 172h1M356 172h1M365 172h1M371 172h2M376 172h1M378 172h1M381 172h1M383 172h1M385 172h3M389 172h33M423 172h1M428 172h1M437 172h1M60 173h1M64 173h3M74 173h1M76 173h3M81 173h1M83 173h20M105 173h3M113 173h1M115 173h1M118 173h1M131 173h3M135 173h1M137 173h5M143 173h36M180 173h3M185 173h2M347 173h1M353 173h1M369 173h1M372 173h1M376 173h1M380 173h3M388 173h30M419 173h7M432 173h1M74 174h1M76 174h16M93 174h13M109 174h6M116 174h1M134 174h1M138 174h3M144 174h34M179 174h4M194 174h1M357 174h1M367 174h2M373 174h1M375 174h1M377 174h11M389 174h1M391 174h30M422 174h1M426 174h1M431 174h1M65 175h1M72 175h1M78 175h2M81 175h3M85 175h6M92 175h11M104 175h2M107 175h3M111 175h1M116 175h2M120 175h1M124 175h2M132 175h1M135 175h1M144 175h2M147 175h1M150 175h26M181 175h1M194 175h1M347 175h1M353 175h1M367 175h1M372 175h2M375 175h3M379 175h1M382 175h1M385 175h2M388 175h32M421 175h2M428 175h1M433 175h1M441 175h2M71 176h1M73 176h1M75 176h13M89 176h1M91 176h6M98 176h5M104 176h3M108 176h2M112 176h2M116 176h1M120 176h2M127 176h1M140 176h3M144 176h3M148 176h28M180 176h1M188 176h1M352 176h1M359 176h2M367 176h1M375 176h1M380 176h11M392 176h24M418 176h2M421 176h1M423 176h1M426 176h2M430 176h2M436 176h1M60 177h1M73 177h1M75 177h1M79 177h2M82 177h19M102 177h6M109 177h2M112 177h1M114 177h2M119 177h1M123 177h2M134 177h2M138 177h1M140 177h2M147 177h1M150 177h23M174 177h1M178 177h1M181 177h2M362 177h1M366 177h2M371 177h1M373 177h2M376 177h1M381 177h4M387 177h1M389 177h29M419 177h2M422 177h1M72 178h3M77 178h3M81 178h4M86 178h7M94 178h9M105 178h3M109 178h3M119 178h1M122 178h1M140 178h5M149 178h1M151 178h25M177 178h2M184 178h1M207 178h1M364 178h1M366 178h4M378 178h2M382 178h1M386 178h5M392 178h29M422 178h1M69 179h1M76 179h1M78 179h1M80 179h1M82 179h7M90 179h2M93 179h6M102 179h3M106 179h4M113 179h3M132 179h1M142 179h1M144 179h3M148 179h21M170 179h2M173 179h1M175 179h1M177 179h1M184 179h1M350 179h1M357 179h1M363 179h1M369 179h1M371 179h1M379 179h3M386 179h1M388 179h1M390 179h28M422 179h1M424 179h2M433 179h1M440 179h1M75 180h1M80 180h1M82 180h4M87 180h4M92 180h7M100 180h4M105 180h1M108 180h1M110 180h1M112 180h2M115 180h1M129 180h1M132 180h1M137 180h1M139 180h1M142 180h2M145 180h3M151 180h2M154 180h13M168 180h2M172 180h2M175 180h1M177 180h1M360 180h1M364 180h1M374 180h1M376 180h2M382 180h1M386 180h30M417 180h4M424 180h1M435 180h1M70 181h1M75 181h1M77 181h1M79 181h1M81 181h1M84 181h3M91 181h6M98 181h3M102 181h5M108 181h1M110 181h1M112 181h2M115 181h1M120 181h1M135 181h1M139 181h2M147 181h1M149 181h1M151 181h24M176 181h2M356 181h1M384 181h2M387 181h30M418 181h2M424 181h1M432 181h1M435 181h1M67 182h1M70 182h2M84 182h8M94 182h1M96 182h5M102 182h2M106 182h2M109 182h1M119 182h1M129 182h1M132 182h1M139 182h1M142 182h1M148 182h5M154 182h9M164 182h3M168 182h2M172 182h2M175 182h1M179 182h1M181 182h2M352 182h1M360 182h1M365 182h1M371 182h1M389 182h1M392 182h3M396 182h21M418 182h1M61 183h1M63 183h1M70 183h3M76 183h2M79 183h1M82 183h2M85 183h6M93 183h4M98 183h1M100 183h5M106 183h2M110 183h1M116 183h1M121 183h1M123 183h1M127 183h2M131 183h1M135 183h1M137 183h2M140 183h1M145 183h1M147 183h1M151 183h1M153 183h1M155 183h1M157 183h3M161 183h5M167 183h3M173 183h1M238 183h1M364 183h1M366 183h1M374 183h1M381 183h1M384 183h1M388 183h1M391 183h4M396 183h19M416 183h3M428 183h1M441 183h1M72 184h4M77 184h3M83 184h1M85 184h1M87 184h1M91 184h1M93 184h4M98 184h1M101 184h3M107 184h1M115 184h1M130 184h1M135 184h1M150 184h3M154 184h1M157 184h6M165 184h1M168 184h1M170 184h1M172 184h1M174 184h1M182 184h1M186 184h1M363 184h1M366 184h1M368 184h1M373 184h1M375 184h1M385 184h1M388 184h2M391 184h1M394 184h20M415 184h5M431 184h1M65 185h1M78 185h2M82 185h1M84 185h2M87 185h1M90 185h3M94 185h6M101 185h2M104 185h2M109 185h1M114 185h1M121 185h2M136 185h1M138 185h1M141 185h1M144 185h1M146 185h1M149 185h1M154 185h1M157 185h1M159 185h10M170 185h3M175 185h1M355 185h1M367 185h1M370 185h1M373 185h2M376 185h1M388 185h3M392 185h2M395 185h5M401 185h16M418 185h3M423 185h1M426 185h1M61 186h1M65 186h1M79 186h3M87 186h3M93 186h4M98 186h2M101 186h1M104 186h1M106 186h1M112 186h1M119 186h2M131 186h1M141 186h1M146 186h1M150 186h2M153 186h1M155 186h5M162 186h2M166 186h1M168 186h2M171 186h2M176 186h1M182 186h1M363 186h1M375 186h1M380 186h1M386 186h1M389 186h1M392 186h3M396 186h3M400 186h6M407 186h4M413 186h3M417 186h1M420 186h1M435 186h1M78 187h1M86 187h2M89 187h1M91 187h2M95 187h4M101 187h2M106 187h2M109 187h1M116 187h1M122 187h1M140 187h1M148 187h4M154 187h1M156 187h2M160 187h3M169 187h1M171 187h1M173 187h1M178 187h1M181 187h1M193 187h1M373 187h1M380 187h1M382 187h2M394 187h11M406 187h1M408 187h4M414 187h2M417 187h2M422 187h1M428 187h1M434 187h1M85 188h2M88 188h2M95 188h1M99 188h2M104 188h1M108 188h1M111 188h1M115 188h1M122 188h1M125 188h1M130 188h1M141 188h2M146 188h2M151 188h1M157 188h2M160 188h1M162 188h2M168 188h1M170 188h3M174 188h1M180 188h1M373 188h1M380 188h1M387 188h1M391 188h3M396 188h12M409 188h2M412 188h1M414 188h1M419 188h4M81 189h2M84 189h1M86 189h1M89 189h1M96 189h1M101 189h1M107 189h2M116 189h1M141 189h1M144 189h1M146 189h4M152 189h1M156 189h1M166 189h1M169 189h1M171 189h1M173 189h1M176 189h1M364 189h1M369 189h1M372 189h1M379 189h1M387 189h1M389 189h1M394 189h3M398 189h1M402 189h6M410 189h2M413 189h1M425 189h1M75 190h1M77 190h1M83 190h1M86 190h1M88 190h3M94 190h3M98 190h1M102 190h1M104 190h1M108 190h1M111 190h1M114 190h2M117 190h1M135 190h1M140 190h1M143 190h2M146 190h2M153 190h2M163 190h1M189 190h1M362 190h1M367 190h1M377 190h1M391 190h1M394 190h1M397 190h1M400 190h3M404 190h2M407 190h5M413 190h2M424 190h1M73 191h2M78 191h2M81 191h2M85 191h2M92 191h2M97 191h2M102 191h1M106 191h1M128 191h1M149 191h1M151 191h1M155 191h2M160 191h1M162 191h1M164 191h3M169 191h1M171 191h1M366 191h1M371 191h1M376 191h1M395 191h1M399 191h1M401 191h1M403 191h2M406 191h3M412 191h1M416 191h1M421 191h1M423 191h1M75 192h1M95 192h2M98 192h1M139 192h1M146 192h2M149 192h1M155 192h1M158 192h2M162 192h1M170 192h1M186 192h1M387 192h1M392 192h1M398 192h2M402 192h1M404 192h1M406 192h1M419 192h1M422 192h1M433 192h1M435 192h1M82 193h1M85 193h1M89 193h1M95 193h1M104 193h2M108 193h1M120 193h1M145 193h1M155 193h1M157 193h1M162 193h1M165 193h2M179 193h1M365 193h1M374 193h1M391 193h1M398 193h3M403 193h3M407 193h2M410 193h1M415 193h1M417 193h1M422 193h1M75 194h1M84 194h1M94 194h1M97 194h1M105 194h1M129 194h1M134 194h1M143 194h1M151 194h2M155 194h1M157 194h1M165 194h1M172 194h1M377 194h1M381 194h2M387 194h1M389 194h1M391 194h1M400 194h1M402 194h2M405 194h1M407 194h2M412 194h1M415 194h4M63 195h1M97 195h2M110 195h2M165 195h1M364 195h1M379 195h1M387 195h3M399 195h2M402 195h1M407 195h1M410 195h1M76 196h1M79 196h1M96 196h1M109 196h1M137 196h1M143 196h1M160 196h1M162 196h1M164 196h1M170 196h1M372 196h1M376 196h1M385 196h2M389 196h1M392 196h1M398 196h1M403 196h3M407 196h1M411 196h1M413 196h1M427 196h1M82 197h1M91 197h1M101 197h1M103 197h1M149 197h1M170 197h1M359 197h1M379 197h1M386 197h1M392 197h1M397 197h1M403 197h1M405 197h1M408 197h2M413 197h1M419 197h1M130 198h1M142 198h1M158 198h1M176 198h1M191 198h1M200 198h1M383 198h2M386 198h1M395 198h1M404 198h1M421 198h1M76 199h1M104 199h1M146 199h1M169 199h1M175 199h1M198 199h1M350 199h1M390 199h1M392 199h1M404 199h1M406 199h1M424 199h1M434 199h1M177 200h1M369 200h1M377 200h1M395 200h1M405 200h1M419 200h1M424 200h1" stroke="#000" stroke-width="1" fill="none"/>
<rect x="53.5" y="31" width="186.0" height="170" fill="none" stroke="#333" stroke-width="1.2"/><line x1="122" y1="31" x2="122" y2="201" stroke="#111" stroke-width="1.5"/><line x1="53.5" y1="108" x2="239.5" y2="108" stroke="#111" stroke-width="1.5"/><rect x="259.7" y="31" width="186.10000000000002" height="170" fill="none" stroke="#333" stroke-width="1.2"/><line x1="357.5" y1="31" x2="357.5" y2="201" stroke="#111" stroke-width="1.5"/><line x1="259.7" y1="87.3" x2="445.8" y2="87.3" stroke="#111" stroke-width="1.5"/><path d="M53.3 201v9M77.3 201v9M85.3 201v9M93.7 201v9M134.2 201v9M179.3 201v9M221.5 201v9M259.7 201v9M277 201v9M286.7 201v9M289 201v9M298.9 201v9M340.9 201v9M386 201v9M427.2 201v9M56.7 201v5.5M62.6 201v5.5M69.7 201v5.5M101.3 201v5.5M107.5 201v5.5M112.6 201v5.5M116.3 201v5.5M119 201v5.5M123.5 201v5.5M126.6 201v5.5M129.2 201v5.5M148 201v5.5M156.6 201v5.5M162 201v5.5M165.3 201v5.5M168 201v5.5M170.6 201v5.5M173 201v5.5M175.3 201v5.5M177.3 201v5.5M192.6 201v5.5M198.6 201v5.5M202.6 201v5.5M205.2 201v5.5M207.9 201v5.5M209.9 201v5.5M212.6 201v5.5M214.6 201v5.5M217.2 201v5.5M218.5 201v5.5M219.9 201v5.5M234.3 201v5.5M267.9 201v5.5M308.9 201v5.5M316 201v5.5M321.2 201v5.5M326.2 201v5.5M330.6 201v5.5M332.9 201v5.5M334.9 201v5.5M336.5 201v5.5M338.6 201v5.5M354.2 201v5.5M363.3 201v5.5M366 201v5.5M368.6 201v5.5M372.6 201v5.5M376 201v5.5M378 201v5.5M380 201v5.5M382 201v5.5M398.6 201v5.5M406 201v5.5M410 201v5.5M413.2 201v5.5M416 201v5.5M418.5 201v5.5M420.5 201v5.5M422.5 201v5.5M424.5 201v5.5M426 201v5.5M440.3 201v5.5M53.5 47h-7.5M53.5 85.3h-7.5M53.5 127.2h-7.5M53.5 163.8h-7.5M53.5 35.2h-4M53.5 48.3h-4M53.5 50.3h-4M53.5 52.5h-4M53.5 55.2h-4M53.5 58.5h-4M53.5 62.6h-4M53.5 66.6h-4M53.5 73.8h-4M53.5 86.9h-4M53.5 88.5h-4M53.5 90.3h-4M53.5 92.3h-4M53.5 96.3h-4M53.5 101.5h-4M53.5 106.8h-4M53.5 113.6h-4M53.5 129h-4M53.5 131h-4M53.5 134.3h-4M53.5 137h-4M53.5 141h-4M53.5 145.6h-4M53.5 150.9h-4M53.5 157h-4M53.5 179.5h-4M53.5 186.3h-4M53.5 192.2h-4M53.5 197.3h-4M259.7 47h-7.5M259.7 85.3h-7.5M259.7 127.2h-7.5M259.7 163.8h-7.5M259.7 35.2h-4M259.7 48.3h-4M259.7 50.3h-4M259.7 52.5h-4M259.7 55.2h-4M259.7 58.5h-4M259.7 62.6h-4M259.7 66.6h-4M259.7 73.8h-4M259.7 86.9h-4M259.7 88.5h-4M259.7 90.3h-4M259.7 92.3h-4M259.7 96.3h-4M259.7 101.5h-4M259.7 106.8h-4M259.7 113.6h-4M259.7 129h-4M259.7 131h-4M259.7 134.3h-4M259.7 137h-4M259.7 141h-4M259.7 145.6h-4M259.7 150.9h-4M259.7 157h-4M259.7 179.5h-4M259.7 186.3h-4M259.7 192.2h-4M259.7 197.3h-4" stroke="#111" stroke-width="1.35" fill="none"/><path d="M53.5 171.6h-8M259.7 172.2h-8M85.3 201v9" stroke="#000" stroke-width="2.2" fill="none"/><line x1="106" y1="232" x2="212.1" y2="232" stroke="#000" stroke-width="2"/><line x1="279.4" y1="232" x2="379" y2="232" stroke="#000" stroke-width="2"/><path d="M377.9 228L385.3 231.9L377.9 235.7Z" fill="#000"/>
<path d="M612.6 30.2V210.2H733.5" stroke="#000" stroke-width="1.8" fill="none"/><path d="M612.6 210.20h-7.6M612.6 150.20h-7.6M612.6 90.20h-7.6M612.6 30.20h-7.6M612.6 180.20h-3.6M612.6 120.20h-3.6M612.6 60.20h-3.6M646.8 210.2v7.2M698.3 210.2v7.2" stroke="#000" stroke-width="1.8" fill="none"/><path d="M647 170.3L698.4 59.2M647 173L698.4 62M647 176L698.4 66.3M647 179L698.4 82.7M647 182L698.4 88.4M647 195.5L698.4 92.7M647 197.2L698.4 94.8M647 199.2L698.4 43.5M647 198.2L698.4 175.8M647 199.6L698.4 176.6" stroke="#000" stroke-width="1" fill="none"/><circle cx="647" cy="170.3" r="3.4"/><circle cx="647" cy="173" r="3.4"/><circle cx="647" cy="176" r="3.4"/><circle cx="647" cy="179" r="3.4"/><circle cx="647" cy="182" r="3.4"/><circle cx="647" cy="195.5" r="3.4"/><circle cx="647" cy="197.2" r="3.4"/><circle cx="647" cy="199.2" r="3.4"/><circle cx="647" cy="198.2" r="3.4"/><circle cx="647" cy="199.6" r="3.4"/><circle cx="698.4" cy="59.2" r="3.4"/><circle cx="698.4" cy="62" r="3.4"/><circle cx="698.4" cy="66.3" r="3.4"/><circle cx="698.4" cy="82.7" r="3.4"/><circle cx="698.4" cy="88.4" r="3.4"/><circle cx="698.4" cy="92.7" r="3.4"/><circle cx="698.4" cy="94.8" r="3.4"/><circle cx="698.4" cy="43.5" r="3.4"/><circle cx="698.4" cy="175.8" r="3.4"/><circle cx="698.4" cy="176.6" r="3.4"/>
<path d="M94.8 321.8V501.3H215" stroke="#000" stroke-width="1.8" fill="none"/><path d="M94.8 321.8h-8M94.8 366.6h-8M94.8 411.5h-8M94.8 456.4h-8M94.8 501.3h-8M128.6 501.3v7M179.4 501.3v7" stroke="#000" stroke-width="1.8" fill="none"/><circle cx="123" cy="381.6" r="3.4"/><circle cx="133.8" cy="381.6" r="3.4"/><circle cx="128.4" cy="411.5" r="3.4"/><circle cx="117.5" cy="432.4" r="3.4"/><circle cx="128.4" cy="436.9" r="3.4"/><circle cx="128.4" cy="443" r="3.4"/><circle cx="117.5" cy="452" r="3.4"/><circle cx="128.4" cy="456.3" r="3.4"/><circle cx="139.3" cy="455" r="3.4"/><circle cx="128.4" cy="493.6" r="3.4"/><circle cx="179.8" cy="327.2" r="3.4"/><circle cx="179.8" cy="335.1" r="3.4"/><circle cx="174.9" cy="372.6" r="3.4"/><circle cx="184.6" cy="369.5" r="3.4"/><circle cx="174.9" cy="381.9" r="3.4"/><circle cx="184.6" cy="383.7" r="3.4"/><circle cx="174.9" cy="396.7" r="3.4"/><circle cx="184.6" cy="399.8" r="3.4"/><circle cx="165.3" cy="407.3" r="3.4"/><circle cx="174.9" cy="405.5" r="3.4"/><circle cx="184.6" cy="406.7" r="3.4"/><circle cx="165.3" cy="417" r="3.4"/><circle cx="174.9" cy="414.6" r="3.4"/><circle cx="184.6" cy="417.6" r="3.4"/><circle cx="194.3" cy="416.4" r="3.4"/><circle cx="194.3" cy="427.9" r="3.4"/><circle cx="174.9" cy="432.1" r="3.4"/><circle cx="184.6" cy="429.7" r="3.4"/><circle cx="165.3" cy="437.5" r="3.4"/><circle cx="174.9" cy="441.8" r="3.4"/><circle cx="184.6" cy="440.6" r="3.4"/><circle cx="194.3" cy="441.2" r="3.4"/><circle cx="179.8" cy="448.1" r="3.4"/><circle cx="184.6" cy="457.2" r="3.4"/><circle cx="174.9" cy="461.1" r="3.4"/><path d="M111.5 440H145.3M162 416.4H189.2" stroke="#000" stroke-width="1.8"/>
<path d="M347.8 321.5V501.3H468.2" stroke="#000" stroke-width="1.8" fill="none"/><path d="M347.8 501.30h-7.5M347.8 465.34h-7.5M347.8 429.38h-7.5M347.8 393.42h-7.5M347.8 357.46h-7.5M347.8 321.50h-7.5M381.8 501.3v7.5M433.3 501.3v7.5" stroke="#000" stroke-width="1.8" fill="none"/><path d="M380.4 313.8H431.9" stroke="#000" stroke-width="2.2"/><path d="M526.0 319.8V501.2H646.6" stroke="#000" stroke-width="1.8" fill="none"/><path d="M526.0 501.20h-7.5M526.0 464.92h-7.5M526.0 428.64h-7.5M526.0 392.36h-7.5M526.0 356.08h-7.5M526.0 319.80h-7.5M559.9 501.2v7.5M611.4 501.2v7.5" stroke="#000" stroke-width="1.8" fill="none"/><path d="M559.2 313.6H610.4" stroke="#000" stroke-width="2.2"/><path d="M381.8 375.44L433.3 341.28M381.8 441.61L433.3 356.56M381.8 410.50L433.3 376.70M381.8 434.77L433.3 385.33M381.8 416.79L433.3 393.78M381.8 424.35L433.3 380.83M381.8 433.52L433.3 397.02M381.8 450.42L433.3 398.81M381.8 456.53L433.3 402.41M381.8 472.53L433.3 432.98" stroke="#000" stroke-width="1" fill="none"/><rect x="379.35" y="372.99" width="4.90" height="4.90" stroke="#000" stroke-width="1.5" fill="#000"/><rect x="430.85" y="338.83" width="4.90" height="4.90" stroke="#000" stroke-width="1.5" fill="#000"/><path d="M378.60 438.41L385.00 444.81M385.00 438.41L378.60 444.81" stroke="#000" stroke-width="1.5" fill="none"/><path d="M430.10 353.36L436.50 359.76M436.50 353.36L430.10 359.76" stroke="#000" stroke-width="1.5" fill="none"/><rect x="379.35" y="408.05" width="4.90" height="4.90" stroke="#000" stroke-width="1.5" fill="#fff"/><rect x="430.85" y="374.25" width="4.90" height="4.90" stroke="#000" stroke-width="1.5" fill="#fff"/><path d="M381.80 431.57L385.00 434.77L381.80 437.97L378.60 434.77Z" stroke="#000" stroke-width="1.5" fill="#fff"/><path d="M433.30 382.13L436.50 385.33L433.30 388.53L430.10 385.33Z" stroke="#000" stroke-width="1.5" fill="#fff"/><path d="M381.80 413.59L385.00 419.35H378.60Z" stroke="#000" stroke-width="1.5" fill="#000"/><path d="M433.30 390.58L436.50 396.34H430.10Z" stroke="#000" stroke-width="1.5" fill="#000"/><path d="M381.80 421.15L385.00 426.91H378.60Z" stroke="#000" stroke-width="1.5" fill="#fff"/><path d="M433.30 377.63L436.50 383.39H430.10Z" stroke="#000" stroke-width="1.5" fill="#fff"/><circle cx="381.80" cy="433.52" r="2.45" stroke="#000" stroke-width="1.5" fill="#000"/><circle cx="433.30" cy="397.02" r="2.45" stroke="#000" stroke-width="1.5" fill="#000"/><path d="M385.00 450.42L383.40 453.05L380.20 453.05L378.60 450.42L380.20 447.78L383.40 447.78Z" stroke="#000" stroke-width="1.5" fill="#fff"/><path d="M436.50 398.81L434.90 401.45L431.70 401.45L430.10 398.81L431.70 396.18L434.90 396.18Z" stroke="#000" stroke-width="1.5" fill="#fff"/><circle cx="381.80" cy="456.53" r="2.45" stroke="#000" stroke-width="1.5" fill="#fff"/><circle cx="433.30" cy="402.41" r="2.45" stroke="#000" stroke-width="1.5" fill="#fff"/><path d="M378.60 469.97H385.00L381.80 475.73Z" stroke="#000" stroke-width="1.5" fill="#fff"/><path d="M430.10 430.42H436.50L433.30 436.18Z" stroke="#000" stroke-width="1.5" fill="#fff"/><path d="M559.9 339.39L611.4 329.23M559.9 359.16L611.4 345.20M559.9 364.06L611.4 347.01M559.9 381.48L611.4 343.38M559.9 385.10L611.4 342.48M559.9 388.73L611.4 348.82M559.9 392.36L611.4 334.31M559.9 400.89L611.4 352.45M559.9 413.22L611.4 350.64M559.9 452.40L611.4 399.62" stroke="#000" stroke-width="1" fill="none"/><rect x="557.45" y="336.94" width="4.90" height="4.90" stroke="#000" stroke-width="1.5" fill="#000"/><rect x="608.95" y="326.78" width="4.90" height="4.90" stroke="#000" stroke-width="1.5" fill="#000"/><rect x="557.45" y="356.71" width="4.90" height="4.90" stroke="#000" stroke-width="1.5" fill="#fff"/><rect x="608.95" y="342.75" width="4.90" height="4.90" stroke="#000" stroke-width="1.5" fill="#fff"/><path d="M559.90 360.86L563.10 366.62H556.70Z" stroke="#000" stroke-width="1.5" fill="#000"/><path d="M611.40 343.81L614.60 349.57H608.20Z" stroke="#000" stroke-width="1.5" fill="#000"/><path d="M559.90 378.28L563.10 384.04H556.70Z" stroke="#000" stroke-width="1.5" fill="#fff"/><path d="M611.40 340.18L614.60 345.94H608.20Z" stroke="#000" stroke-width="1.5" fill="#fff"/><circle cx="559.90" cy="385.10" r="2.45" stroke="#000" stroke-width="1.5" fill="#000"/><circle cx="611.40" cy="342.48" r="2.45" stroke="#000" stroke-width="1.5" fill="#000"/><path d="M559.90 385.53L563.10 388.73L559.90 391.93L556.70 388.73Z" stroke="#000" stroke-width="1.5" fill="#fff"/><path d="M611.40 345.62L614.60 348.82L611.40 352.02L608.20 348.82Z" stroke="#000" stroke-width="1.5" fill="#fff"/><path d="M556.70 389.16L563.10 395.56M563.10 389.16L556.70 395.56" stroke="#000" stroke-width="1.5" fill="none"/><path d="M608.20 331.11L614.60 337.51M614.60 331.11L608.20 337.51" stroke="#000" stroke-width="1.5" fill="none"/><path d="M563.10 400.89L561.50 403.52L558.30 403.52L556.70 400.89L558.30 398.25L561.50 398.25Z" stroke="#000" stroke-width="1.5" fill="#fff"/><path d="M614.60 352.45L613.00 355.08L609.80 355.08L608.20 352.45L609.80 349.82L613.00 349.82Z" stroke="#000" stroke-width="1.5" fill="#fff"/><circle cx="559.90" cy="413.22" r="2.45" stroke="#000" stroke-width="1.5" fill="#fff"/><circle cx="611.40" cy="350.64" r="2.45" stroke="#000" stroke-width="1.5" fill="#fff"/><path d="M556.70 449.84H563.10L559.90 455.60Z" stroke="#000" stroke-width="1.5" fill="#fff"/><path d="M608.20 397.06H614.60L611.40 402.82Z" stroke="#000" stroke-width="1.5" fill="#fff"/><rect x="663.6" y="397.8" width="85" height="94.7" fill="none" stroke="#000" stroke-width="1.3"/><path d="M667.00 399.80L677.00 409.80M677.00 399.80L667.00 409.80" stroke="#000" stroke-width="1.3" fill="none"/><path d="M667.00 414.10H677.00L672.00 423.10Z" stroke="#000" stroke-width="1.3" fill="#fff"/><circle cx="672.00" cy="431.40" r="4.35" stroke="#000" stroke-width="1.3" fill="#fff"/><circle cx="686.50" cy="431.40" r="4.35" stroke="#000" stroke-width="1.3" fill="#000"/><rect x="667.65" y="440.35" width="8.70" height="8.70" stroke="#000" stroke-width="1.3" fill="#fff"/><rect x="682.15" y="440.35" width="8.70" height="8.70" stroke="#000" stroke-width="1.3" fill="#000"/><path d="M672.00 453.00L677.00 458.00L672.00 463.00L667.00 458.00Z" stroke="#000" stroke-width="1.3" fill="#fff"/><path d="M672.00 466.30L677.00 475.30H667.00Z" stroke="#000" stroke-width="1.3" fill="#fff"/><path d="M686.50 466.30L691.50 475.30H681.50Z" stroke="#000" stroke-width="1.3" fill="#000"/><path d="M677.00 484.60L674.50 488.71L669.50 488.71L667.00 484.60L669.50 480.49L674.50 480.49Z" stroke="#000" stroke-width="1.3" fill="#fff"/>
<g font-family="Liberation Sans, sans-serif" fill="#000" stroke="#000" stroke-width="0.3"><text transform="translate(0.71,32.40) scale(0.874,1)" font-size="21.37" stroke-width="0.34">a</text><text transform="translate(128.46,17.50) scale(1.023,1)" font-size="19.48" stroke-width="0.31">Pre</text><text transform="translate(330.66,17.20) scale(1.052,1)" font-size="19.04" stroke-width="0.30">Post</text><text transform="translate(54.52,45.20) scale(1.078,1)" font-size="15.32" stroke-width="0.25">46%</text><text transform="translate(205.55,45.90) scale(0.995,1)" font-size="16.43" stroke-width="0.26">14%</text><text transform="translate(54.83,197.30) scale(1.020,1)" font-size="16.29" stroke-width="0.26">15%</text><text transform="translate(204.54,197.50) scale(1.033,1)" font-size="16.47" stroke-width="0.26">25%</text><text transform="translate(261.45,45.70) scale(0.997,1)" font-size="16.40" stroke-width="0.26">13%</text><text transform="translate(419.87,46.30) scale(1.041,1)" font-size="15.90" stroke-width="0.25">3%</text><text transform="translate(260.77,198.00) scale(0.955,1)" font-size="17.73" stroke-width="0.28">&lt;1%</text><text transform="translate(360.47,197.10) scale(1.093,1)" font-size="15.32" stroke-width="0.25">84%</text><text transform="translate(33.50,139.18) rotate(-90) scale(0.994,1)" font-size="19.48" stroke-width="0.31">CD3</text><text transform="translate(222.11,238.50) scale(0.998,1)" font-size="19.62" stroke-width="0.31">CD56</text><text transform="translate(495.25,32.30) scale(1.179,1)" font-size="19.04" stroke-width="0.30">b</text><text transform="translate(541.66,36.00) scale(1.110,1)" font-size="17.62" stroke-width="0.28">30,000</text><text transform="translate(540.90,96.90) scale(1.143,1)" font-size="17.33" stroke-width="0.28">20,000</text><text transform="translate(542.53,156.40) scale(1.112,1)" font-size="17.33" stroke-width="0.28">10,000</text><text transform="translate(592.35,216.80) scale(0.954,1)" font-size="17.33" stroke-width="0.28">0</text><text transform="translate(528.40,176.03) rotate(-90) scale(1.052,1)" font-size="18.93" stroke-width="0.30">MFI of CD16</text><text transform="translate(628.98,238.40) scale(1.048,1)" font-size="18.90" stroke-width="0.30">Pre</text><text transform="translate(676.46,238.40) scale(1.060,1)" font-size="18.90" stroke-width="0.30">Post</text><text transform="translate(4.66,291.10) scale(1.031,1)" font-size="21.37" stroke-width="0.34">c</text><text transform="translate(51.34,328.80) scale(1.013,1)" font-size="19.48" stroke-width="0.31">800</text><text transform="translate(51.19,373.60) scale(1.018,1)" font-size="19.48" stroke-width="0.31">600</text><text transform="translate(51.75,418.50) scale(1.000,1)" font-size="19.48" stroke-width="0.31">400</text><text transform="translate(51.20,463.40) scale(1.018,1)" font-size="19.48" stroke-width="0.31">200</text><text transform="translate(73.98,508.30) scale(0.945,1)" font-size="19.48" stroke-width="0.31">0</text><text transform="translate(30.60,487.73) rotate(-90) scale(1.075,1)" font-size="18.49" stroke-width="0.30">Fold NK expansion</text><text transform="translate(110.36,527.70) scale(1.039,1)" font-size="18.31" stroke-width="0.29">Auto</text><text transform="translate(165.66,527.70) scale(1.080,1)" font-size="17.39" stroke-width="0.28">Allo</text><text transform="translate(107.58,546.60) scale(1.093,1)" font-size="13.52" stroke-width="0.22">(n=10)</text><text transform="translate(161.06,546.60) scale(1.117,1)" font-size="13.52" stroke-width="0.22">(n=25)</text><text transform="translate(261.53,292.20) scale(0.973,1)" font-size="21.25" stroke-width="0.34">d</text><text transform="translate(365.92,283.10) scale(1.006,1)" font-size="19.19" stroke-width="0.31">E:T</text><text transform="translate(402.06,283.10) scale(1.006,1)" font-size="19.19" stroke-width="0.31">=</text><text transform="translate(420.13,283.10) scale(1.006,1)" font-size="19.19" stroke-width="0.31">1:1</text><text transform="translate(374.16,307.60) scale(1.055,1)" font-size="13.89" stroke-width="0.22">p&lt;0.0001</text><text transform="translate(538.87,283.10) scale(1.035,1)" font-size="19.19" stroke-width="0.31">E:T</text><text transform="translate(575.26,283.10) scale(1.006,1)" font-size="19.19" stroke-width="0.31">=</text><text transform="translate(592.63,283.10) scale(1.006,1)" font-size="19.19" stroke-width="0.31">2:1</text><text transform="translate(553.21,307.30) scale(1.174,1)" font-size="12.32" stroke-width="0.00">P=0.0001</text><text transform="translate(304.92,328.40) scale(1.017,1)" font-size="19.05" stroke-width="0.30">100</text><text transform="translate(482.42,326.70) scale(1.017,1)" font-size="19.05" stroke-width="0.30">100</text><text transform="translate(315.97,364.36) scale(1.004,1)" font-size="19.05" stroke-width="0.30">80</text><text transform="translate(493.47,362.98) scale(1.004,1)" font-size="19.05" stroke-width="0.30">80</text><text transform="translate(315.82,400.32) scale(1.012,1)" font-size="19.05" stroke-width="0.30">60</text><text transform="translate(493.32,399.26) scale(1.012,1)" font-size="19.05" stroke-width="0.30">60</text><text transform="translate(316.37,436.28) scale(0.985,1)" font-size="19.05" stroke-width="0.30">40</text><text transform="translate(493.87,435.54) scale(0.985,1)" font-size="19.05" stroke-width="0.30">40</text><text transform="translate(315.83,472.24) scale(1.011,1)" font-size="19.05" stroke-width="0.30">20</text><text transform="translate(493.33,471.82) scale(1.011,1)" font-size="19.05" stroke-width="0.30">20</text><text transform="translate(327.20,508.20) scale(0.944,1)" font-size="19.05" stroke-width="0.30">0</text><text transform="translate(504.70,508.10) scale(0.944,1)" font-size="19.05" stroke-width="0.30">0</text><text transform="translate(294.50,466.70) rotate(-90) scale(1.036,1)" font-size="19.04" stroke-width="0.30">% Cell killing</text><text transform="translate(365.03,527.20) scale(1.149,1)" font-size="16.70" stroke-width="0.27">with</text><text transform="translate(410.43,527.20) scale(1.140,1)" font-size="16.70" stroke-width="0.27">without</text><text transform="translate(366.69,554.40) scale(1.148,1)" font-size="17.25" stroke-width="0.28">Cetuximab</text><text transform="translate(538.23,527.40) scale(1.141,1)" font-size="16.97" stroke-width="0.27">with</text><text transform="translate(583.53,527.40) scale(1.136,1)" font-size="16.97" stroke-width="0.27">without</text><text transform="translate(542.60,554.40) scale(1.140,1)" font-size="17.25" stroke-width="0.28">Cetuximab</text><text transform="translate(698.56,407.80) scale(1.173,1)" font-size="8.28" stroke-width="0.00">Subject #1</text><text transform="translate(698.56,421.10) scale(1.174,1)" font-size="8.28" stroke-width="0.00">Subject #2</text><text transform="translate(698.56,434.40) scale(1.172,1)" font-size="8.28" stroke-width="0.00">Subject #3</text><text transform="translate(698.56,447.70) scale(1.169,1)" font-size="8.28" stroke-width="0.00">Subject #4</text><text transform="translate(698.56,461.00) scale(1.172,1)" font-size="8.28" stroke-width="0.00">Subject #5</text><text transform="translate(698.56,474.30) scale(1.172,1)" font-size="8.28" stroke-width="0.00">Subject #6</text><text transform="translate(698.56,487.60) scale(1.174,1)" font-size="8.28" stroke-width="0.00">Subject #7</text></g>
</svg></body></html>
